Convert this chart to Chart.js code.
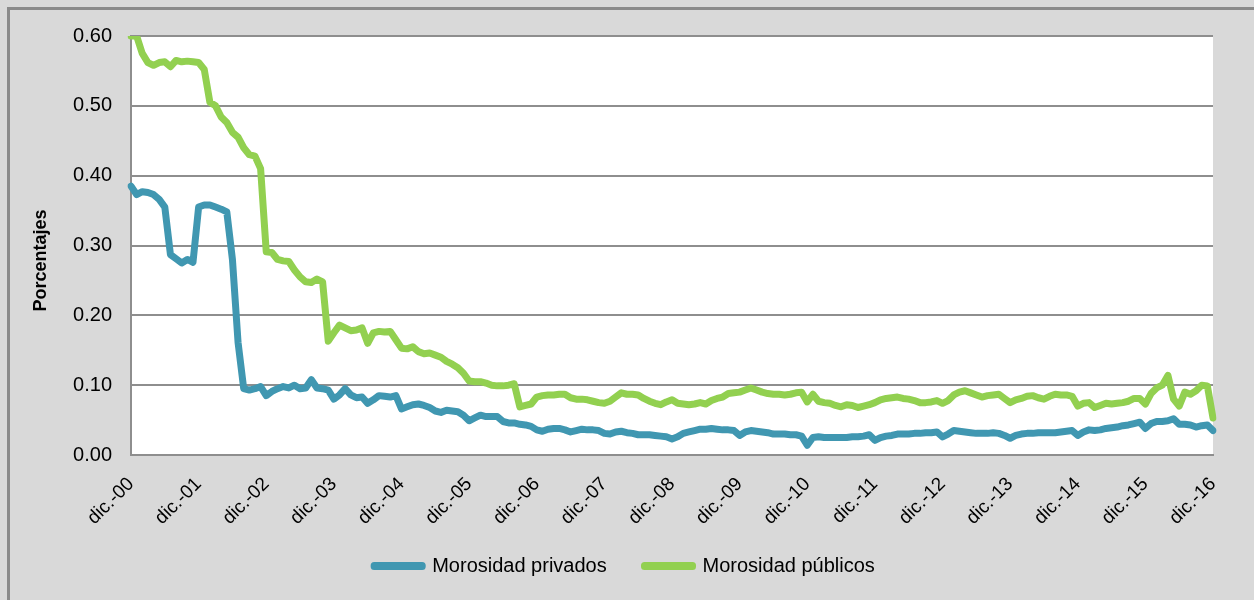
<!DOCTYPE html>
<html>
<head>
<meta charset="utf-8">
<script src="https://cdn.jsdelivr.net/npm/chart.js@4.4.1/dist/chart.umd.min.js"></script>
<style>
  body { margin: 0; background: #d9d9d9; overflow: hidden; }
  #frame {
    position: absolute; left: 7px; top: 7px; width: 1400px; height: 800px;
    border-left: 3px solid #8a8a8a; border-top: 3px solid #8a8a8a;
  }
  #wrap { position: absolute; left: 0; top: 0; width: 1254px; height: 600px; }
</style>
</head>
<body>
<div id="frame"></div>
<div id="wrap"><canvas id="myChart" width="1254" height="600"></canvas></div>
<script>
// monthly series, dic.-00 .. dic.-16
const meses = ['ene.', 'feb.', 'mar.', 'abr.', 'may.', 'jun.', 'jul.', 'ago.', 'sep.', 'oct.', 'nov.', 'dic.']

const privados = [
  0.385, 0.373, 0.377, 0.376, 0.373, 0.366, 0.355, 0.287, 0.281, 0.275, 0.280, 0.276,
  0.355, 0.358, 0.358, 0.355, 0.352, 0.348, 0.280, 0.161, 0.095, 0.093, 0.095, 0.098,
  0.085, 0.091, 0.095, 0.098, 0.096, 0.100, 0.095, 0.096, 0.108, 0.096, 0.095, 0.093,
  0.080, 0.086, 0.095, 0.086, 0.082, 0.083, 0.074, 0.079, 0.085, 0.084, 0.083, 0.085,
  0.066, 0.069, 0.072, 0.073, 0.071, 0.068, 0.063, 0.061, 0.064, 0.063, 0.062, 0.057,
  0.049, 0.053, 0.057, 0.055, 0.055, 0.055, 0.048, 0.046, 0.046, 0.044, 0.043, 0.041,
  0.036, 0.034, 0.037, 0.038, 0.038, 0.036, 0.033, 0.035, 0.037, 0.036, 0.036, 0.035,
  0.031, 0.030, 0.033, 0.034, 0.032, 0.031, 0.029, 0.029, 0.029, 0.028, 0.027, 0.026,
  0.023, 0.026, 0.031, 0.033, 0.035, 0.037, 0.037, 0.038, 0.037, 0.036, 0.036, 0.035,
  0.028, 0.033, 0.035, 0.034, 0.033, 0.032, 0.030, 0.030, 0.030, 0.029, 0.029, 0.027,
  0.014, 0.025, 0.026, 0.025, 0.025, 0.025, 0.025, 0.025, 0.026, 0.026, 0.027, 0.029,
  0.021, 0.025, 0.027, 0.028, 0.030, 0.030, 0.030, 0.031, 0.031, 0.032, 0.032, 0.033,
  0.026, 0.030, 0.035, 0.034, 0.033, 0.032, 0.031, 0.031, 0.031, 0.032, 0.031, 0.028,
  0.024, 0.028, 0.030, 0.031, 0.031, 0.032, 0.032, 0.032, 0.032, 0.033, 0.034, 0.035,
  0.028, 0.033, 0.036, 0.035, 0.036, 0.038, 0.039, 0.040, 0.042, 0.043, 0.045, 0.047,
  0.038, 0.045, 0.048, 0.048, 0.049, 0.052, 0.044, 0.044, 0.043, 0.040, 0.042, 0.043,
  0.035
]

const publicos = [
  0.600, 0.600, 0.575, 0.562, 0.558, 0.562, 0.563, 0.556, 0.565, 0.563, 0.564, 0.563,
  0.562, 0.552, 0.505, 0.500, 0.484, 0.476, 0.462, 0.455, 0.440, 0.430, 0.428, 0.410,
  0.291, 0.290, 0.280, 0.278, 0.277, 0.265, 0.255, 0.248, 0.247, 0.252, 0.248, 0.163,
  0.175, 0.186, 0.182, 0.178, 0.179, 0.182, 0.160, 0.175, 0.177, 0.176, 0.177, 0.165,
  0.153, 0.152, 0.155, 0.148, 0.145, 0.146, 0.143, 0.140, 0.134, 0.130, 0.125, 0.117,
  0.106, 0.105, 0.105, 0.103, 0.100, 0.099, 0.099, 0.100, 0.102, 0.069, 0.071, 0.073,
  0.083, 0.085, 0.086, 0.086, 0.087, 0.087, 0.082, 0.080, 0.080, 0.079, 0.077, 0.075,
  0.074, 0.077, 0.083, 0.089, 0.087, 0.087, 0.086, 0.081, 0.077, 0.074, 0.072, 0.076,
  0.079, 0.074, 0.073, 0.072, 0.073, 0.075, 0.073, 0.078, 0.081, 0.083, 0.088, 0.089,
  0.090, 0.093, 0.096, 0.093, 0.090, 0.088, 0.087, 0.087, 0.086, 0.087, 0.089, 0.090,
  0.076, 0.087, 0.077, 0.075, 0.074, 0.071, 0.069, 0.072, 0.071, 0.068, 0.070, 0.072,
  0.075, 0.079, 0.081, 0.082, 0.083, 0.081, 0.080, 0.078, 0.075, 0.075, 0.076, 0.078,
  0.074, 0.078, 0.086, 0.090, 0.092, 0.089, 0.086, 0.083, 0.085, 0.086, 0.087, 0.081,
  0.075, 0.079, 0.081, 0.084, 0.085, 0.082, 0.080, 0.084, 0.087, 0.086, 0.086, 0.084,
  0.070, 0.074, 0.075, 0.068, 0.071, 0.074, 0.073, 0.074, 0.075, 0.077, 0.081, 0.081,
  0.073, 0.088, 0.096, 0.100, 0.114, 0.080, 0.070, 0.090, 0.087, 0.092, 0.100, 0.099,
  0.053
]

// category labels: "dic.-00", "ene.-01", ...
const etiquetas = privados.map((v, i) => {
  const m = (11 + i) % 12
  const y = Math.floor((11 + i) / 12)
  return meses[m] + '-' + String(y).padStart(2, '0')
})

const gridColor = '#8e8e8e'

// white plot background
const plotBg = {
  id: 'plotBg',
  beforeDraw(chart) {
    const { ctx, chartArea: a } = chart
    ctx.save()
    ctx.fillStyle = '#ffffff'
    ctx.fillRect(a.left, a.top, a.right - a.left, a.bottom - a.top)
    ctx.restore()
  }
}

Chart.defaults.font.family = '"Liberation Sans", Arial, sans-serif'
Chart.defaults.color = '#000000'

const ctx = document.getElementById('myChart').getContext('2d')
const chart = new Chart(ctx, {
  type: 'line',
  data: {
    labels: etiquetas,
    datasets: [{
      label: 'Morosidad privados',
      data: privados,
      borderColor: '#4097b1',
      backgroundColor: '#4097b1',
      borderWidth: 7,
      pointRadius: 0,
      tension: 0,
      borderJoinStyle: 'round',
      borderCapStyle: 'round'
    }, {
      label: 'Morosidad públicos',
      data: publicos,
      borderColor: '#92d050',
      backgroundColor: '#92d050',
      borderWidth: 7,
      pointRadius: 0,
      tension: 0,
      borderJoinStyle: 'round',
      borderCapStyle: 'round'
    }]
  },
  options: {
    responsive: false,
    animation: false,
    layout: { padding: { left: 36, top: 36, right: 41, bottom: 14 } },
    plugins: {
      tooltip: { enabled: false },
      legend: {
        position: 'bottom',
        labels: {
          boxWidth: 48,
          boxHeight: 1,
          padding: 10,
          font: { size: 20 },
          // wider gap after the first entry
          generateLabels(chart) {
            const items = Chart.defaults.plugins.legend.labels.generateLabels(chart)
            items[0].text = items[0].text + '     '
            return items
          }
        }
      }
    },
    scales: {
      x: {
        offset: false,
        grid: { display: false, drawTicks: false },
        border: { display: true, color: gridColor, width: 2 },
        ticks: {
          autoSkip: false,
          minRotation: 45,
          maxRotation: 45,
          padding: 18,
          font: { size: 19 },
          callback: function (value, index) {
            return index % 12 === 0 ? etiquetas[index] : ''
          }
        },
        afterFit(scale) { scale.height = 91 }
      },
      y: {
        min: 0,
        max: 0.6,
        grid: { color: gridColor, lineWidth: 2, drawTicks: false },
        border: { display: true, color: gridColor, width: 2 },
        ticks: {
          stepSize: 0.1,
          padding: 19,
          font: { size: 20 },
          callback: (v) => v.toFixed(2)
        },
        title: {
          display: true,
          text: 'Porcentajes      ',
          font: { size: 18, weight: 'bold' },
          padding: { top: -6, bottom: 0 }
        },
        afterFit(scale) { scale.width = 95 }
      }
    }
  },
  plugins: [plotBg]
})
</script>
</body>
</html>
